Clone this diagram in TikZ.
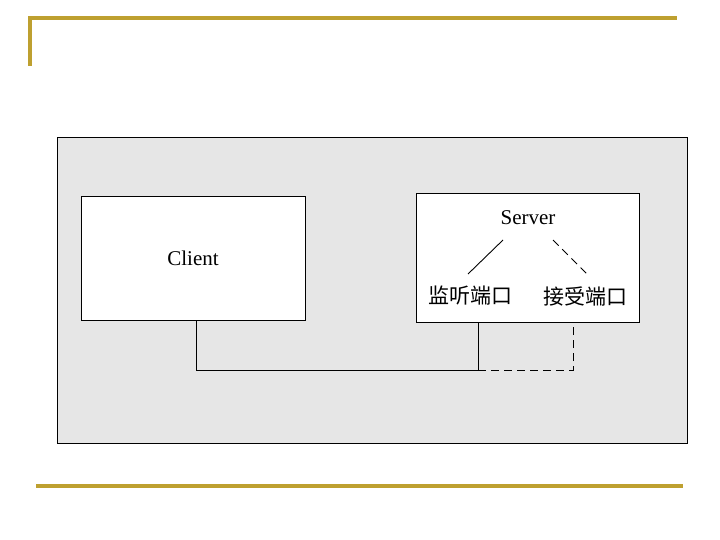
\documentclass[tikz,border=0pt]{standalone}
\usepackage{fontspec}
\setmainfont{Liberation Serif}
\newfontfamily\cjk{Noto Sans CJK SC}
\definecolor{gold}{RGB}{190,160,48}
\definecolor{panel}{RGB}{230,230,230}
\begin{document}
\begin{tikzpicture}[x=1pt,y=-1pt,
  goldline/.style={draw=gold,line width=3.2pt},
  box/.style={draw=black,fill=white,line width=0.8pt,anchor=north west,inner sep=0pt},
  lbl/.style={font=\fontsize{21}{24}\selectfont,inner sep=1pt},
  wire/.style={draw=black,line width=0.9pt},
  dwire/.style={draw=black,line width=0.9pt,dash pattern=on 8pt off 5pt}]
\useasboundingbox (0,0) rectangle (720,540);
\draw[goldline] (30,66) -- (30,18) -- (677,18);
\draw[goldline] (36,486) -- (683,486);
\node[draw=black,fill=panel,line width=0.8pt,anchor=north west,inner sep=0pt,minimum width=630pt,minimum height=306pt] (panel) at (57,137) {};
\node[box,minimum width=224pt,minimum height=124pt] (client) at (81,196) {};
\node[lbl] (clientt) at (193,258) {Client};
\node[box,minimum width=223pt,minimum height=129pt] (server) at (416,193) {};
\node[lbl] (servert) at (528,218) {Server};
\node[lbl] (listen) at (470,296) {\cjk 监听端口};
\node[lbl] (accept) at (585,296) {\cjk 接受端口};
\coordinate (s1) at (503,240);
\coordinate (l1) at (468,274);
\coordinate (s2) at (553,240);
\coordinate (a1) at (588,275);
\draw[wire] (s1) -- (l1);
\draw[dwire] (s2) -- (a1);
\coordinate (c0) at (196,320);
\coordinate (j) at (478,370);
\coordinate (sv1) at (478,322);
\coordinate (sv2) at (573,322);
\draw[wire] (c0) |- (j) -- (sv1);
\draw[dwire] (j) -| (sv2);
\end{tikzpicture}
\end{document}
